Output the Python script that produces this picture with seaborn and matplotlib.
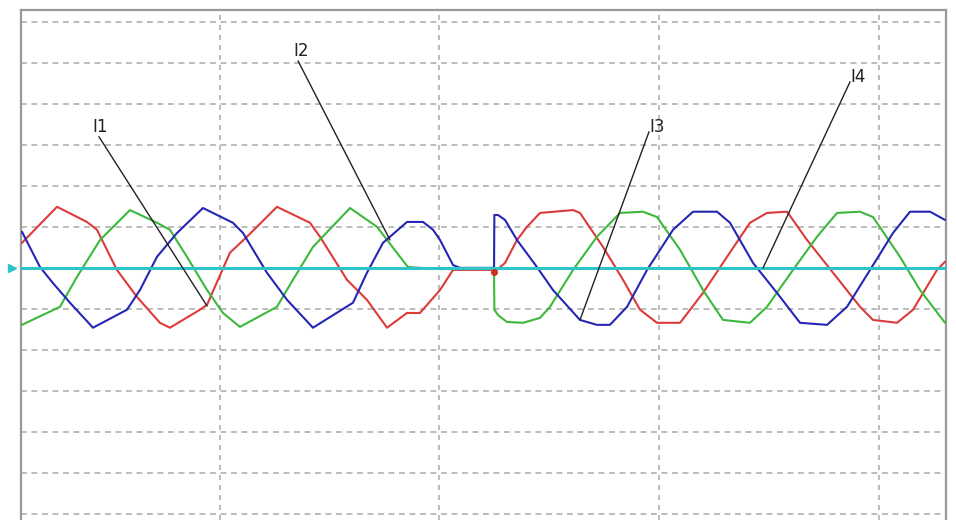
import numpy as np
import pandas as pd
import matplotlib
matplotlib.use('Agg')
import matplotlib.pyplot as plt
import seaborn as sns

# Phase currents (time in ms, amplitude in divisions)
t_red = [1.96, 5.15, 7.88, 8.79, 10.61, 12.44, 14.53, 15.44, 18.18, 18.82, 20.91, 22.46,
         25.19, 28.20, 29.11, 31.57, 33.39, 35.22, 37.04, 38.22, 40.05, 41.23, 44.88, 45.00,
         45.97, 47.06, 47.97, 49.16, 52.17, 52.80, 54.90, 56.72, 58.27, 59.82, 61.92, 64.01,
         66.20, 68.29, 69.84, 71.67, 73.49, 75.86, 78.32, 79.50, 81.69, 83.15, 85.33, 86.06]
i_red = [0.61, 1.49, 1.12, 0.93, -0.05, -0.71, -1.34, -1.46, -1.02, -0.90, 0.37, 0.76,
         1.49, 1.10, 0.76, -0.29, -0.78, -1.46, -1.10, -1.10, -0.54, -0.05, -0.05, -0.10,
         0.12, 0.68, 1.00, 1.34, 1.41, 1.34, 0.51, -0.29, -1.02, -1.34, -1.34, -0.61,
         0.27, 1.10, 1.34, 1.37, 0.68, -0.12, -0.95, -1.27, -1.34, -1.02, -0.05, 0.15]

t_green = [1.96, 5.42, 6.97, 9.07, 11.80, 14.26, 15.44, 16.99, 18.82, 20.27, 21.82, 25.19,
           26.65, 28.47, 31.85, 34.31, 36.40, 37.13, 40.05, 44.97, 45.00, 45.33, 46.15, 47.61,
           49.16, 50.07, 52.17, 54.35, 56.45, 58.54, 59.82, 61.92, 64.01, 65.83, 68.29, 69.84,
           72.21, 74.40, 76.22, 78.32, 79.50, 81.96, 83.78, 86.06]
i_green = [-1.39, -0.95, -0.22, 0.68, 1.41, 1.10, 0.93, 0.27, -0.54, -1.10, -1.44, -0.95,
           -0.29, 0.51, 1.46, 1.00, 0.27, 0.02, -0.03, 0.00, -1.02, -1.15, -1.32, -1.34,
           -1.22, -0.95, -0.05, 0.76, 1.34, 1.37, 1.24, 0.44, -0.54, -1.27, -1.34, -0.95,
           -0.05, 0.76, 1.34, 1.37, 1.24, 0.27, -0.54, -1.34]

t_blue = [1.96, 3.60, 4.78, 6.33, 8.43, 11.53, 12.71, 14.26, 16.08, 18.45, 21.18, 22.10,
          24.28, 26.11, 28.47, 32.12, 33.39, 34.85, 37.04, 38.50, 39.41, 40.05, 41.23, 41.87,
          44.97, 45.00, 45.33, 45.97, 47.06, 48.88, 50.34, 52.80, 54.35, 55.53, 57.09, 58.91,
          61.28, 63.10, 65.29, 66.47, 68.57, 70.75, 72.85, 75.31, 77.13, 79.23, 81.32, 82.87,
          84.70, 86.06]
i_blue = [0.88, 0.02, -0.37, -0.85, -1.46, -1.02, -0.54, 0.27, 0.85, 1.46, 1.10, 0.85,
          -0.12, -0.78, -1.46, -0.85, -0.12, 0.61, 1.12, 1.12, 0.93, 0.68, 0.07, 0.00,
          0.00, 1.29, 1.29, 1.17, 0.68, 0.02, -0.54, -1.27, -1.39, -1.39, -0.95, -0.05,
          0.93, 1.37, 1.37, 1.10, 0.12, -0.61, -1.34, -1.39, -0.95, -0.05, 0.85, 1.37,
          1.37, 1.17]

# neutral / zero-sequence trace
t_cyan = [1.87, 86.15]
i_cyan = [0.0, 0.0]

# annotation labels: text position, line start, pointer end
labels = ['I1', 'I2', 'I3', 'I4']
label_t = [9.07, 27.38, 59.82, 78.13]
label_i = [3.44, 5.29, 3.44, 4.66]
start_t = [8.97, 27.11, 59.09, 77.41]
start_i = [3.20, 5.05, 3.32, 4.54]
end_t = [18.82, 35.49, 52.80, 69.48]
end_i = [-0.93, 0.68, -1.27, 0.00]

df = pd.concat([
    pd.DataFrame({'t': t_red, 'i': i_red, 'phase': 'A'}),
    pd.DataFrame({'t': t_green, 'i': i_green, 'phase': 'B'}),
    pd.DataFrame({'t': t_blue, 'i': i_blue, 'phase': 'C'}),
])
palette = {'A': '#dd3a3a', 'B': '#3cb83c', 'C': '#2626b4'}

sns.set_style('white')
fig = plt.figure(figsize=(9.56, 5.2), dpi=100)
ax = fig.add_axes([21 / 956, 0, 925 / 956, 510 / 520])

# dashed grid
for gy in range(-6, 7):
    ax.axhline(gy, color='#b0b0b0', lw=1.2, ls=(0, (3.5, 2.8)), zorder=1)
for gx in [20, 40, 60, 80]:
    ax.axvline(gx, color='#b0b0b0', lw=1.2, ls=(0, (3, 3)), zorder=1)

sns.lineplot(data=df, x='t', y='i', hue='phase', palette=palette, estimator=None,
             sort=False, lw=1.5, legend=False, ax=ax, zorder=3)
ax.plot(t_cyan, i_cyan, color='#2cc4c8', lw=2.2, zorder=4)
ax.plot([1.05], [0.0], marker='>', color='#2cc4c8', ms=6, clip_on=False, zorder=5)
ax.plot([45.0], [-0.10], marker='o', color='#c83020', ms=4, zorder=5)

for lab, tx, ty, sx, sy, ex, ey in zip(labels, label_t, label_i, start_t, start_i, end_t, end_i):
    ax.plot([sx, ex], [sy, ey], color='#222222', lw=1.0, zorder=6)
    ax.text(tx, ty, lab, ha='center', va='center', fontsize=12, color='#222222',
            family=['Liberation Sans Narrow', 'DejaVu Sans'])

ax.set_xlim(1.87, 86.15)
ax.set_ylim(-6.15, 6.29)
ax.set_xticks([])
ax.set_yticks([])
ax.set_xlabel('')
ax.set_ylabel('')
for side in ['left', 'top', 'right']:
    ax.spines[side].set_color('#9a9a9a')
    ax.spines[side].set_linewidth(1.6)
ax.spines['bottom'].set_visible(False)

fig.savefig('out.png', dpi=100)
